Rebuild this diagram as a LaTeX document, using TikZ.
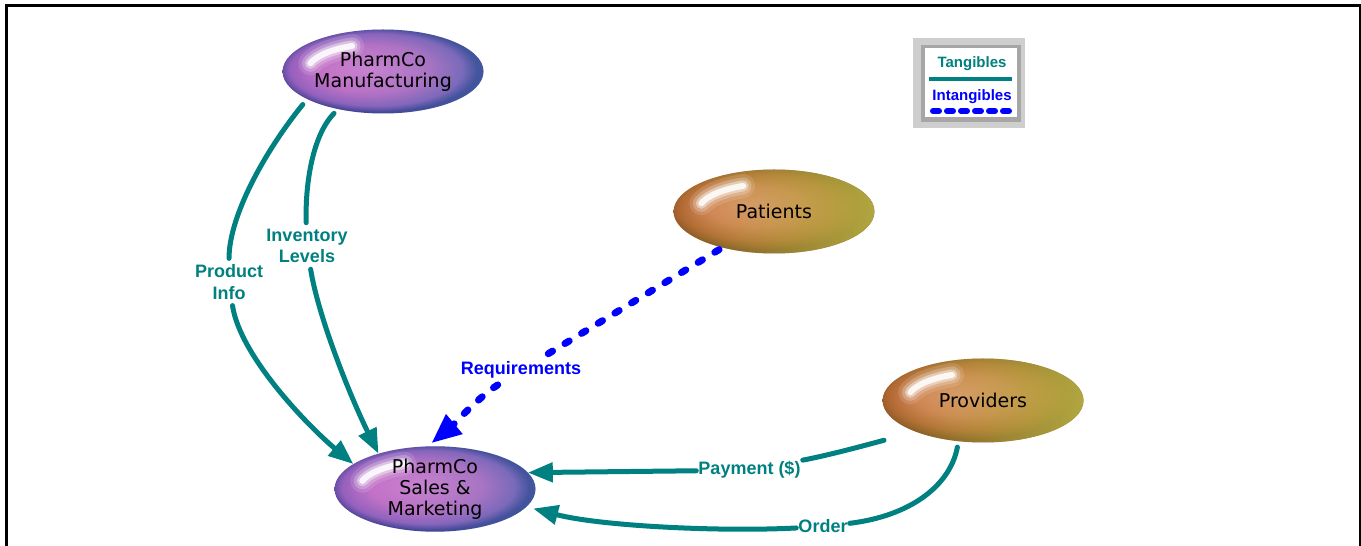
\documentclass[tikz,border=0pt]{standalone}
\usepackage{fontspec}
\setmainfont{DejaVu Sans}
\newfontfamily\flowfont{Liberation Sans}
\usetikzlibrary{arrows.meta,shapes.geometric,fadings}

% flow colours
\definecolor{flowteal}{RGB}{0,128,128}
\definecolor{flowblue}{RGB}{0,0,255}
% violet party bubbles
\definecolor{plumcore}{RGB}{224,132,214}
\definecolor{plummid}{RGB}{204,112,200}
\definecolor{plumrim}{RGB}{150,96,190}
\definecolor{plumedge}{RGB}{70,62,146}
\definecolor{plumtint}{RGB}{60,130,180}
% amber party bubbles
\definecolor{ambercore}{RGB}{226,144,118}
\definecolor{ambermid}{RGB}{212,126,88}
\definecolor{amberrim}{RGB}{176,102,50}
\definecolor{amberedge}{RGB}{126,82,32}
\definecolor{ambertint}{RGB}{186,182,70}
% key box bevel
\definecolor{bevellight}{RGB}{206,206,206}
\definecolor{beveldark}{RGB}{166,166,166}

\pgfdeclareradialshading{plumball}{\pgfpoint{-3bp}{2bp}}{color(0bp)=(plumcore); color(14bp)=(plummid); color(21.5bp)=(plumrim); color(25bp)=(plumedge); color(50bp)=(plumedge)}
\pgfdeclareradialshading{amberball}{\pgfpoint{-6bp}{4bp}}{color(0bp)=(ambercore); color(12bp)=(ambermid); color(20bp)=(amberrim); color(25bp)=(amberedge); color(50bp)=(amberedge)}

\tikzfading[name=plumtintfade, left color=transparent!100, middle color=transparent!100, right color=transparent!65]
\tikzfading[name=ambertintfade, left color=transparent!100, middle color=transparent!70, right color=transparent!15]

% soft white glint in the upper left of a bubble
\newcommand\blobglint{%
  \foreach \w/\o in {24/0.12, 17/0.22, 11/0.4, 6/0.85} {
    \draw[white, line width=\w pt, line cap=round, opacity=\o]
      ([shift={(114:76pt and 28pt)}]path picture bounding box.center)
      arc[start angle=114, end angle=163, x radius=76pt, y radius=28pt];
  }}

\tikzset{
  blob/.style={ellipse, minimum width=201pt, minimum height=84pt, inner sep=0pt,
    outer sep=0pt, align=center, text=black, font=\fontsize{19}{21}\selectfont, shade},
  plumblob/.style={blob, shading=plumball, path picture={
    \fill[plumtint, path fading=plumtintfade] (path picture bounding box.south west)
      rectangle (path picture bounding box.north east);
    \blobglint}},
  amberblob/.style={blob, shading=amberball, path picture={
    \fill[ambertint, path fading=ambertintfade] (path picture bounding box.south west)
      rectangle (path picture bounding box.north east);
    \blobglint}},
  flowlabel/.style={font=\flowfont\bfseries\fontsize{18}{21.6}\selectfont, align=center,
    inner xsep=2pt, inner ysep=6pt},
  tanglabel/.style={flowlabel, text=flowteal},
  intanglabel/.style={flowlabel, text=flowblue},
  tangflow/.style={draw=flowteal, line width=5pt, line cap=round},
  tangarrow/.style={tangflow, -{Triangle[length=25pt,width=19pt]}},
  intangflow/.style={draw=flowblue, line width=7pt, line cap=round, dash pattern=on 5pt off 14.5pt},
  intangarrow/.style={intangflow, -{Triangle[length=30pt,width=24pt]}},
  keytext/.style={font=\flowfont\bfseries\fontsize{15}{18}\selectfont, anchor=base, inner sep=0pt},
  frameline/.style={line width=2.7pt, line join=miter},
}

\begin{document}
\begin{tikzpicture}[x=1pt,y=1pt]
\useasboundingbox (0,0) rectangle (1361,546);

% outer frame, open at the bottom
\draw[frameline] (6.2,0) -- (6.2,540.7) -- (1361,540.7);
\draw[line width=1.8pt] (1359.9,542) -- (1359.9,0);

% parties
\node[plumblob]  (mfg)   at (383,474.5) {PharmCo\\Manufacturing};
\node[amberblob] (pat)   at (774,334.5) {Patients};
\node[amberblob] (prov)  at (983,145.5) {Providers};
\node[plumblob]  (sales) at (435,57)    {PharmCo\\Sales \&\\Marketing};

% flow labels
\node[tanglabel]   (lprod) at (229,264) {Product\\Info};
\node[tanglabel]   (linv)  at (307,300) {Inventory\\Levels};
\node[intanglabel, anchor=base] (lreq) at (521,171) {Requirements};
\node[tanglabel, anchor=base]   (lpay) at (749.5,71) {Payment (\$)};
\node[tanglabel, anchor=base]   (lord) at (823,13) {Order};

% manufacturing -> sales
\draw[tangflow, shorten <=7pt] (mfg.200) .. controls (265,395) and (229,330) .. (lprod);
\draw[tangarrow] (lprod) .. controls (240,190) and (308,120) .. (sales.163);
\draw[tangflow, shorten <=6pt] (mfg.220) .. controls (312,410) and (305,360) .. (linv);
\draw[tangarrow] (linv) .. controls (318,230) and (350,150) .. (sales.148);

% patients -> sales
\draw[intangflow, shorten <=4pt] (pat.215) -- (lreq);
\draw[intangarrow, shorten >=5pt] (lreq) .. controls (480,150) and (452,120) .. (sales.100);

% providers -> sales
\draw[tangflow, shorten <=33pt] (prov.205) .. controls (870,102) and (830,91) .. (lpay);
\draw[tangarrow] (lpay) -- (sales.10);
\draw[tangflow, shorten <=6pt] (prov.239) .. controls (950,60) and (910,30) .. (lord);
\draw[tangarrow, shorten >=7pt] (lord) .. controls (720,14) and (600,20) .. (sales.-11);

% key
\fill[bevellight] (913,418) rectangle (1025,508);
\fill[beveldark] (920.5,424) rectangle (1020.5,501);
\fill[white] (925,428.5) rectangle (1017,498);
\node[keytext, text=flowteal] (keytang) at (972,478.7) {Tangibles};
\draw[flowteal, line width=4pt] (929,467) -- (1012,467);
\node[keytext, text=flowblue] (keyintang) at (972,445.3) {Intangibles};
\draw[flowblue, line width=6pt, line cap=round, dash pattern=on 6pt off 8pt] (933,435) -- (1009,435);
\end{tikzpicture}
\end{document}
